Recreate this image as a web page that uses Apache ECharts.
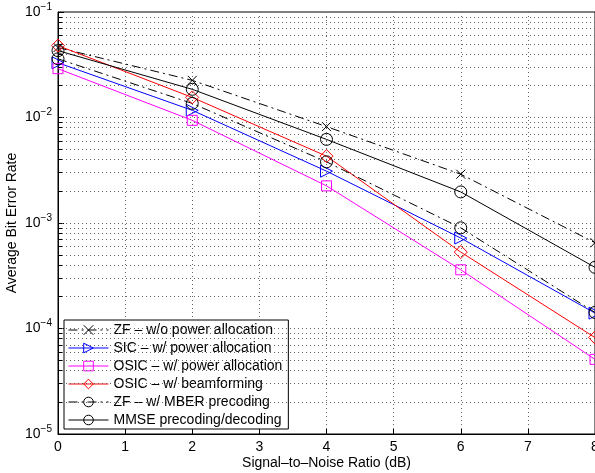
<!DOCTYPE html>
<html>
<head>
    <meta charset="utf-8">
    <script src="https://cdn.jsdelivr.net/npm/echarts@6/dist/echarts.min.js"></script>
</head>
<body style="margin:0">
    <div id="main" style="width: 595px;height:473px;"></div>
    <script type="text/javascript">
        var snr = [0, 2, 4, 6, 8];
        var zfNoPower = [0.046, 0.0225, 0.0082, 0.0029, 0.00065];
        var sicPower = [0.033, 0.0117, 0.0031, 0.00072, 0.00014];
        var osicPower = [0.029, 0.0094, 0.00225, 0.00036, 0.000051];
        var osicBeam = [0.048, 0.0155, 0.0043, 0.00053, 0.000082];
        var zfMber = [0.036, 0.0136, 0.0038, 0.0009, 0.000142];
        var mmse = [0.043, 0.0185, 0.0062, 0.00197, 0.00038];
        var minorLevels = [];
        for (var e = -5; e < -1; e++) {
            for (var m = 1; m <= 9; m++) {
                minorLevels.push(m * Math.pow(10, e));
            }
        }

        function pairs(vals) {
            return snr.map(function (x, i) { return [x, vals[i]]; });
        }

        var myChart = echarts.init(document.getElementById('main'));
        var font = 'Liberation Sans, Arial, sans-serif';
        var dotted = { color: '#666', type: [1, 3], width: 1 };

        function mk(name, data, color, symbol, lineType, extra) {
            var s = {
                name: name,
                type: 'line',
                data: pairs(data),
                symbol: symbol,
                symbolSize: 11,
                color: color,
                lineStyle: { color: color, width: 1, type: lineType },
                itemStyle: { color: 'rgba(0,0,0,0)', borderColor: color, borderWidth: 1 },
                z: 5
            };
            for (var k in extra) s[k] = extra[k];
            return s;
        }

        var gridLines = minorLevels.filter(function (v) { return v > 1.01e-5; }).map(function (v) {
            return [{ coord: [0, v] }, { coord: [8, v] }];
        });
        var ticks = minorLevels.map(function (v) {
            return [{ coord: [0, v] }, { coord: [0.06, v] }];
        });

        myChart.setOption({
            animation: false,
            textStyle: { fontFamily: font },
            grid: {
                left: 58, right: 0, top: 12, bottom: 39,
                outerBoundsMode: 'none', containLabel: false,
                show: true, borderColor: '#000', borderWidth: 1
            },
            legend: {
                orient: 'vertical',
                left: 64, top: 320,
                itemWidth: 40, itemHeight: 12, itemGap: 4,
                padding: [3, 6, 2, 4],
                borderColor: '#000', borderWidth: 1,
                backgroundColor: '#fff',
                lineStyle: { width: 1 },
                itemStyle: { borderWidth: 1 },
                textStyle: { fontSize: 14, color: '#000', fontFamily: font },
                data: ['ZF – w/o power allocation', 'SIC – w/ power allocation', 'OSIC – w/ power allocation',
                    'OSIC – w/ beamforming', 'ZF – w/ MBER precoding', 'MMSE precoding/decoding']
            },
            xAxis: {
                type: 'value', min: 0, max: 8, interval: 1,
                name: 'Signal–to–Noise Ratio (dB)', nameLocation: 'middle', nameGap: 22,
                nameMoveOverlap: false,
                nameTextStyle: { fontSize: 14, color: '#000' },
                axisLine: { lineStyle: { color: '#000' } },
                axisTick: { inside: true, length: 5, lineStyle: { color: '#000' } },
                axisLabel: { fontSize: 14, color: '#000', margin: 6 },
                splitLine: { show: true, lineStyle: dotted }
            },
            yAxis: {
                type: 'log', logBase: 10, min: 1e-5, max: 1e-1,
                name: 'Average Bit Error Rate', nameLocation: 'middle', nameGap: 39,
                nameMoveOverlap: false,
                nameTextStyle: { fontSize: 14, color: '#000' },
                axisLine: { lineStyle: { color: '#000' } },
                axisTick: { inside: true, length: 6, lineStyle: { color: '#000' } },
                axisLabel: {
                    margin: 6,
                    formatter: function (v) {
                        var ex = Math.round(Math.log10(v));
                        return '{b|10}{s|' + (ex < 0 ? '−' + (-ex) : ex) + '}';
                    },
                    rich: {
                        b: { fontSize: 14, color: '#000', fontFamily: font },
                        s: { fontSize: 10, color: '#000', fontFamily: font, padding: [0, 0, 10, 0] }
                    }
                },
                splitLine: { show: false }
            },
            series: [
                {
                    type: 'line', data: [], silent: true,
                    markLine: {
                        silent: true, symbol: 'none', label: { show: false },
                        lineStyle: dotted, data: gridLines, animation: false
                    }
                },
                {
                    type: 'line', data: [], silent: true,
                    markLine: {
                        silent: true, symbol: 'none', label: { show: false },
                        lineStyle: { color: '#000', type: 'solid', width: 1 }, data: ticks, animation: false
                    }
                },
                mk('ZF – w/o power allocation', zfNoPower, '#000', 'path://M0,0L10,10M10,0L0,10', [9, 4, 2, 4], { symbolSize: 9 }),
                mk('SIC – w/ power allocation', sicPower, '#0000ff', 'triangle', 'solid', { symbolRotate: -90, symbolSize: 12 }),
                mk('OSIC – w/ power allocation', osicPower, '#ff00ff', 'rect', 'solid', { symbolSize: 10 }),
                mk('OSIC – w/ beamforming', osicBeam, '#ff0000', 'diamond', 'solid', { symbolSize: 13 }),
                mk('ZF – w/ MBER precoding', zfMber, '#000', 'circle', [9, 4, 2, 4], { symbolSize: 12 }),
                mk('MMSE precoding/decoding', mmse, '#000', 'circle', 'solid', { symbolSize: 12 })
            ]
        });
    </script>
</body>
</html>
